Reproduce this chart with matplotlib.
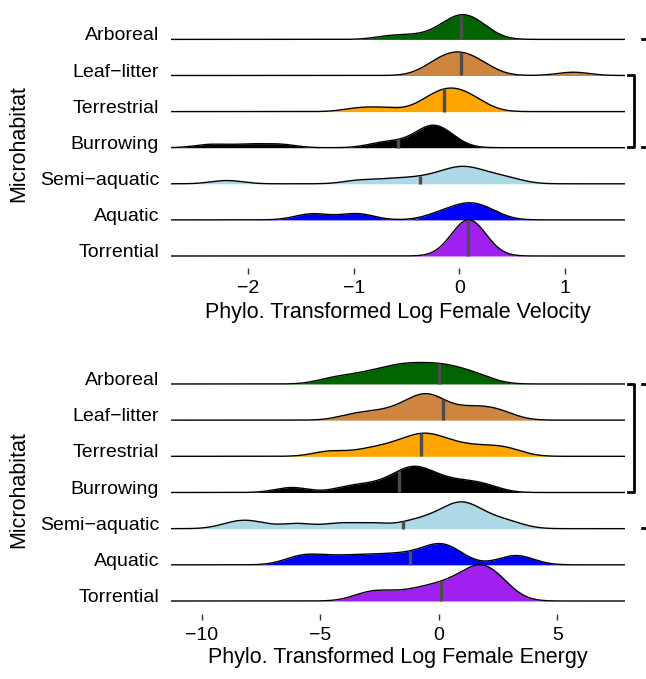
import numpy as np
import matplotlib
matplotlib.use("Agg")
import matplotlib.pyplot as plt

plt.rcParams['font.family'] = ['Liberation Sans', 'DejaVu Sans']

W, H = 646, 679

groups = ["Arboreal", "Leaf\u2212litter", "Terrestrial", "Burrowing",
          "Semi\u2212aquatic", "Aquatic", "Torrential"]
colors = ["#006400", "#CD853F", "#FFA500", "#000000",
          "#ADD8E6", "#0000FF", "#A020F0"]

vel_obs = {
    "Arboreal": [-0.65, -0.4, -0.17, -0.11, -0.06, -0.02, 0.02, 0.05, 0.09, 0.13, 0.18, 0.24],
    "Leaf\u2212litter": [-0.28, -0.21, -0.15, -0.1, -0.05, -0.02, 0.03, 0.07, 0.12, 0.19, 0.26, 1.08],
    "Terrestrial": [-0.95, -0.7, -0.34, -0.27, -0.21, -0.16, -0.11, -0.08, -0.03, 0.01, 0.06, 0.13, 0.2],
    "Burrowing": [-2.35, -2.0, -1.7, -0.75, -0.6, -0.38, -0.33, -0.29, -0.26, -0.23, -0.19, -0.14, -0.1],
    "Semi\u2212aquatic": [-2.2, -0.95, -0.68, -0.48, -0.3, -0.18, -0.08, -0.02, 0.03, 0.08, 0.15, 0.24,
                          0.35, 0.5],
    "Aquatic": [-1.45, -1.33, -1.02, -0.92, -0.22, -0.1, 0.0, 0.06, 0.11, 0.16, 0.23, 0.32],
    "Torrential": [-0.02, 0.01, 0.03, 0.05, 0.07, 0.08, 0.1, 0.11, 0.13, 0.15, 0.17, 0.2],
}
vel_means = [0.02, 0.02, -0.14, -0.58, -0.37, -0.4, 0.08]

en_obs = {
    "Arboreal": [-4.5, -3.5, -2.8, -2.2, -1.8, -1.4, -1.0, -0.6, -0.2, 0.2, 0.6, 1.1, 1.8],
    "Leaf\u2212litter": [-3.6, -2.6, -1.8, -1.2, -0.9, -0.6, -0.4, -0.2, 0.1, 1.0, 1.5, 2.1, 2.7],
    "Terrestrial": [-4.6, -3.1, -2.2, -1.6, -1.1, -0.8, -0.5, -0.2, 0.2, 0.8, 1.5, 2.3, 3.0],
    "Burrowing": [-6.2, -3.8, -2.8, -2.0, -1.5, -1.2, -1.1, -0.8, -0.5, 0.0, 0.6, 1.3, 2.0],
    "Semi\u2212aquatic": [-8.6, -7.8, -6.0, -4.2, -2.8, -1.2, -0.4, 0.2, 0.6, 0.9, 1.0, 1.2, 1.6, 2.2,
                          3.0],
    "Aquatic": [-6.0, -5.4, -4.5, -3.6, -2.8, -2.0, -1.3, -0.6, -0.1, 0.1, 0.3, 0.8, 3.0, 3.5],
    "Torrential": [-3.1, -2.5, -1.6, -0.8, -0.3, 0.2, 0.6, 1.0, 1.3, 1.5, 1.7, 1.85, 2.0, 2.2,
                   2.5, 2.8],
}
en_means = [0.0, 0.17, -0.75, -1.7, -1.5, -1.2, 0.08]


def px_axes(fig, left, right, top, bottom):
    return fig.add_axes([left / W, 1 - bottom / H, (right - left) / W, (bottom - top) / H])


def kde(obs, xs, bw):
    obs = np.asarray(obs)[:, None]
    return np.exp(-0.5 * ((xs[None, :] - obs) / bw) ** 2).sum(axis=0)


def ridges(ax, obs, means, xlim, bw, ticks, ylim):
    xs = np.linspace(xlim[0], xlim[1], 600)
    dens = [kde(obs[g], xs, bw) for g in groups]
    top = max(d.max() for d in dens)
    n = len(groups)
    for i, g in enumerate(groups):
        y0 = n - 1 - i
        h = dens[i] / top
        z = 2 + i
        ax.fill_between(xs, y0, y0 + h, color=colors[i], lw=0, zorder=z)
        ax.plot(xs, y0 + h, color="black", lw=1.0, zorder=z + 0.1)
        hm = np.interp(means[i], xs, h)
        ax.plot([means[i], means[i]], [y0, y0 + hm], color="#4d4d4d", lw=2.4,
                solid_capstyle="butt", zorder=z + 0.2)
    ax.set_xlim(*xlim)
    ax.set_ylim(*ylim)
    ax.set_xticks(ticks)
    ax.set_xticklabels(["\u2212%d" % -t if t < 0 else "%d" % t for t in ticks])
    ax.set_yticks([])
    ax.tick_params(axis="x", length=4, width=1, color="#333333", labelsize=14, pad=5)
    for s in ax.spines.values():
        s.set_visible(False)


def fig_text(x, y, s, **kw):
    fig.text(x / W, 1 - y / H, s, **kw)


fig = plt.figure(figsize=(W / 100, H / 100), dpi=100)

ax1 = px_axes(fig, 171, 625, 5, 268)
ridges(ax1, vel_obs, vel_means, (-2.73, 1.57), 0.15, [-2, -1, 0, 1],
       (-12 / 36.1, (256 - 5) / 36.1))
ax2 = px_axes(fig, 171, 625, 350, 614)
ridges(ax2, en_obs, en_means, (-11.3, 7.85), 0.7, [-10, -5, 0, 5],
       (-13 / 36.17, (601 - 350) / 36.17))

for base, step in [(39.5, 36.1), (384, 36.17)]:
    for i, g in enumerate(groups):
        fig_text(159, base + i * step + 1, g, ha="right", va="baseline", fontsize=14)

fig_text(398, 318, "Phylo. Transformed Log Female Velocity", ha="center", va="baseline", fontsize=15.5)
fig_text(398, 663, "Phylo. Transformed Log Female Energy", ha="center", va="baseline", fontsize=15.5)
fig_text(19, 144, "Microhabitat", ha="center", va="center", rotation=90, fontsize=15.5)
fig_text(19, 490, "Microhabitat", ha="center", va="center", rotation=90, fontsize=15.5)


def bracket(y1, y2):
    x = 634
    fig.add_artist(plt.Line2D([(x - 6) / W, x / W, x / W, (x - 6) / W],
                              [1 - y1 / H, 1 - y1 / H, 1 - y2 / H, 1 - y2 / H],
                              color="black", lw=2))


bracket(75, 147)
bracket(384, 492)
for y in [39, 147, 384, 528]:
    fig.add_artist(plt.Line2D([642 / W, 645 / W], [1 - y / H, 1 - y / H], color="black", lw=2))

fig.savefig("out.png", dpi=100)
